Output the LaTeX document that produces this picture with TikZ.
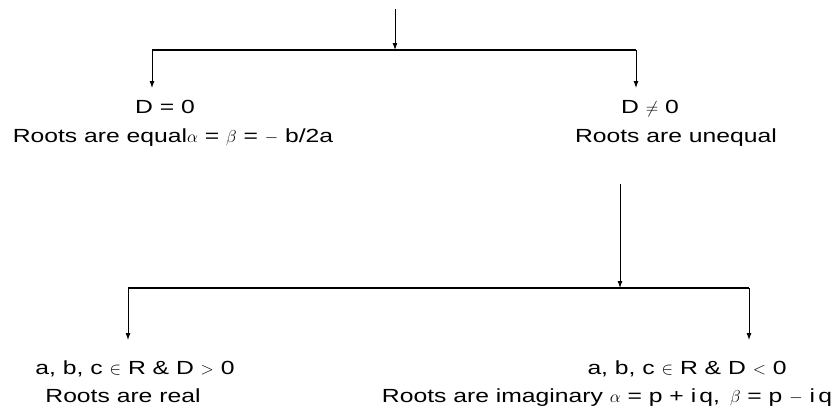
\documentclass[tikz,border=0pt]{standalone}
\usepackage{fontspec}
\setmainfont{Liberation Sans}[FakeStretch=1.3]
\usepackage{tikz}
\usetikzlibrary{arrows.meta,positioning}
\tikzset{
    mytext/.style={anchor=base,inner sep=0pt,font=\fontsize{19}{22}\selectfont},
    myline/.style={line width=1.6pt,draw=black},
    myarrow/.style={line width=0.9pt,draw=black,-{Latex[length=7pt,width=5pt]}}
}

\begin{document}
\begin{tikzpicture}[x=1pt,y=-1pt]
  \useasboundingbox (0,0) rectangle (832,410);

  % first split
  \coordinate (top) at (395,9);
  \coordinate (S1) at (395,50);
  \coordinate (L1) at (152,50);
  \coordinate (R1) at (636,50);
  \coordinate (L1tip) at (152,88);
  \coordinate (R1tip) at (636,88);

  \node[mytext] (d0)   at (165,113) {D = 0};
  \node[mytext] (eq)   at (173,142) {Roots are equal$\alpha$ = $\beta$ = $-$ b/2a};
  \node[mytext] (dn)   at (650,113) {D $\neq$ 0};
  \node[mytext] (uneq) at (676,142) {Roots are unequal};

  \draw[myarrow] (top) -- (S1);
  \draw[myline] (L1) -- (R1);
  \draw[myarrow] (L1) -- (L1tip);
  \draw[myarrow] (R1) -- (R1tip);

  % second split
  \coordinate (V2) at (620,184);
  \coordinate (S2) at (620,288);
  \coordinate (L2) at (128,288);
  \coordinate (R2) at (749,288);
  \coordinate (L2tip) at (128,340);
  \coordinate (R2tip) at (749,340);

  \node[mytext] (pos)  at (135,374) {a, b, c $\in$ R \& D $>$ 0};
  \node[mytext] (real) at (123,402) {Roots are real};
  \node[mytext] (neg)  at (687,374) {a, b, c $\in$ R \& D $<$ 0};
  \node[mytext] (imag) at (607,402) {Roots are imaginary $\alpha$ = p + i\,q,\,\ $\beta$ = p $-$ i\,q};

  \draw[myarrow] (V2) -- (S2);
  \draw[myline] (L2) -- (R2);
  \draw[myarrow] (L2) -- (L2tip);
  \draw[myarrow] (R2) -- (R2tip);
\end{tikzpicture}
\end{document}
